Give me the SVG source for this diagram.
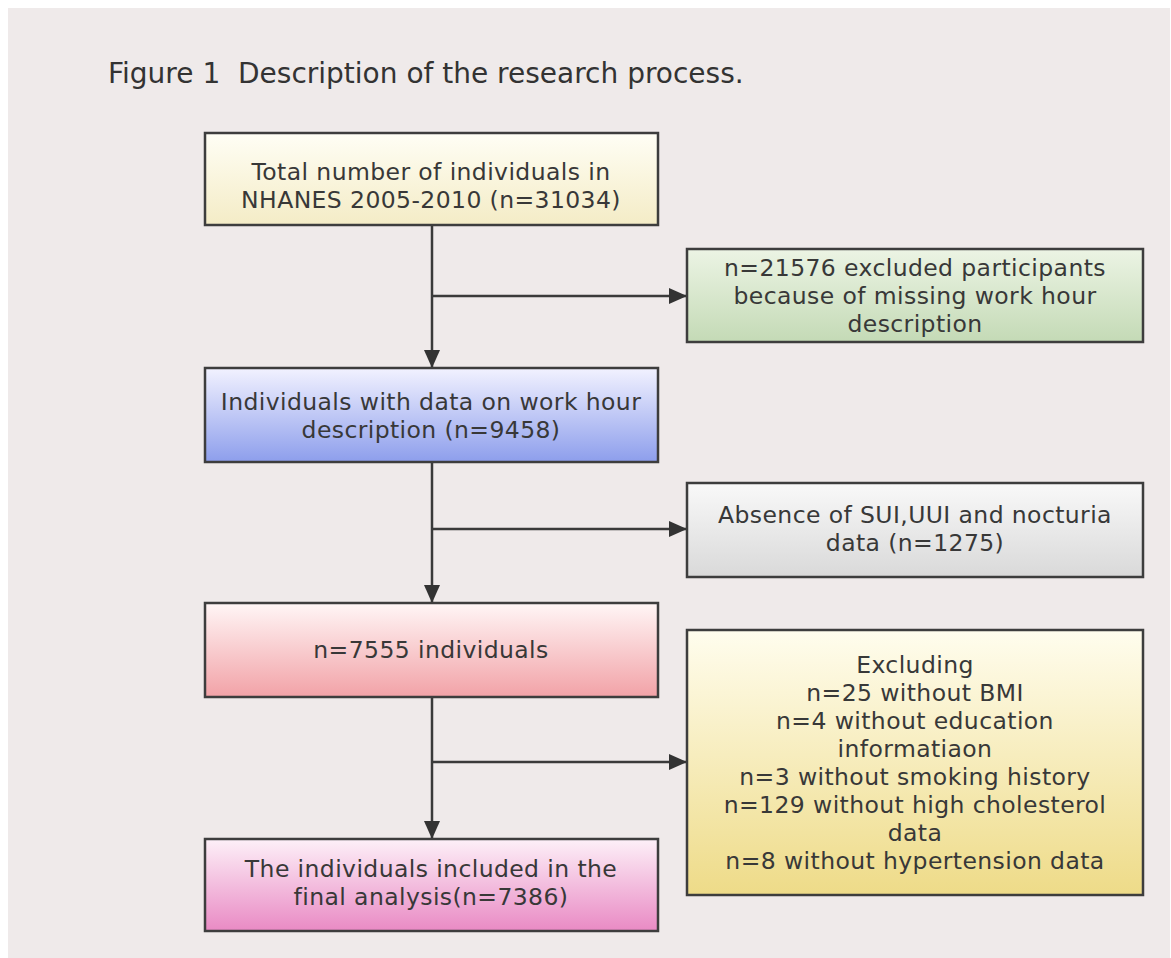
<svg xmlns="http://www.w3.org/2000/svg" width="1171" height="958" viewBox="0 0 1171 958">
<style>
.box{stroke:#3d3d3d;stroke-width:2.5}
.t{font-family:"DejaVu Sans","Open Sans",sans-serif;font-size:23.5px;letter-spacing:0.4px;fill:#383838;text-anchor:middle}
.title{font-family:"DejaVu Sans","Open Sans",sans-serif;font-size:28px;fill:#333}
.c{stroke:#3a3a3a;stroke-width:2.5;fill:none}
</style>
<defs>
<linearGradient id="gY1" x1="0" y1="0" x2="0" y2="1"><stop offset="0" stop-color="#fffef5"/><stop offset="1" stop-color="#f4ecc6"/></linearGradient>
<linearGradient id="gG" x1="0" y1="0" x2="0" y2="1"><stop offset="0" stop-color="#ecf4e4"/><stop offset="1" stop-color="#c4dab6"/></linearGradient>
<linearGradient id="gB" x1="0" y1="0" x2="0" y2="1"><stop offset="0" stop-color="#f2f2ff"/><stop offset="1" stop-color="#8d9eec"/></linearGradient>
<linearGradient id="gS" x1="0" y1="0" x2="0" y2="1"><stop offset="0" stop-color="#f9f9f9"/><stop offset="1" stop-color="#d9d9d9"/></linearGradient>
<linearGradient id="gP" x1="0" y1="0" x2="0" y2="1"><stop offset="0" stop-color="#fff6f6"/><stop offset="1" stop-color="#f2a2a7"/></linearGradient>
<linearGradient id="gY2" x1="0" y1="0" x2="0" y2="1"><stop offset="0" stop-color="#fffdee"/><stop offset="1" stop-color="#eedb88"/></linearGradient>
<linearGradient id="gM" x1="0" y1="0" x2="0" y2="1"><stop offset="0" stop-color="#fdf0f8"/><stop offset="1" stop-color="#e98ac4"/></linearGradient>
<marker id="ah" markerUnits="userSpaceOnUse" markerWidth="20" markerHeight="18" refX="18" refY="9" orient="auto"><path d="M0,1 L18,9 L0,17 Z" fill="#333"/></marker>
</defs>
<rect x="0" y="0" width="1171" height="958" fill="#ffffff"/>
<rect x="8" y="8" width="1162" height="950" fill="#efeaea"/>
<text class="title" x="108" y="83" xml:space="preserve">Figure 1  Description of the research process.</text>

<g id="connectors">
<line class="c" x1="432" y1="225" x2="432" y2="368" marker-end="url(#ah)"/>
<line class="c" x1="432" y1="296" x2="687" y2="296" marker-end="url(#ah)"/>
<line class="c" x1="432" y1="462" x2="432" y2="603" marker-end="url(#ah)"/>
<line class="c" x1="432" y1="529" x2="687" y2="529" marker-end="url(#ah)"/>
<line class="c" x1="432" y1="697" x2="432" y2="839" marker-end="url(#ah)"/>
<line class="c" x1="432" y1="762" x2="687" y2="762" marker-end="url(#ah)"/>
</g>

<g id="n1">
<rect class="box" x="205" y="133" width="453" height="92" fill="url(#gY1)"/>
<text class="t" x="431" y="180">Total number of individuals in</text>
<text class="t" x="431" y="208">NHANES 2005-2010 (n=31034)</text>
</g>
<g id="n2">
<rect class="box" x="687" y="249" width="456" height="93" fill="url(#gG)"/>
<text class="t" x="915" y="276">n=21576 excluded participants</text>
<text class="t" x="915" y="304">because of missing work hour</text>
<text class="t" x="915" y="332">description</text>
</g>
<g id="n3">
<rect class="box" x="205" y="368" width="453" height="94" fill="url(#gB)"/>
<text class="t" x="431" y="410">Individuals with data on work hour</text>
<text class="t" x="431" y="438">description (n=9458)</text>
</g>
<g id="n4">
<rect class="box" x="687" y="483" width="456" height="94" fill="url(#gS)"/>
<text class="t" x="915" y="523">Absence of SUI,UUI and nocturia</text>
<text class="t" x="915" y="551">data (n=1275)</text>
</g>
<g id="n5">
<rect class="box" x="205" y="603" width="453" height="94" fill="url(#gP)"/>
<text class="t" x="431" y="658">n=7555 individuals</text>
</g>
<g id="n6">
<rect class="box" x="687" y="630" width="456" height="265" fill="url(#gY2)"/>
<text class="t" x="915" y="673">Excluding</text>
<text class="t" x="915" y="701">n=25 without BMI</text>
<text class="t" x="915" y="729">n=4 without education</text>
<text class="t" x="915" y="757">informatiaon</text>
<text class="t" x="915" y="785">n=3 without smoking history</text>
<text class="t" x="915" y="813">n=129 without high cholesterol</text>
<text class="t" x="915" y="841">data</text>
<text class="t" x="915" y="869">n=8 without hypertension data</text>
</g>
<g id="n7">
<rect class="box" x="205" y="839" width="453" height="92" fill="url(#gM)"/>
<text class="t" x="431" y="877">The individuals included in the</text>
<text class="t" x="431" y="905">final analysis(n=7386)</text>
</g>
</svg>
